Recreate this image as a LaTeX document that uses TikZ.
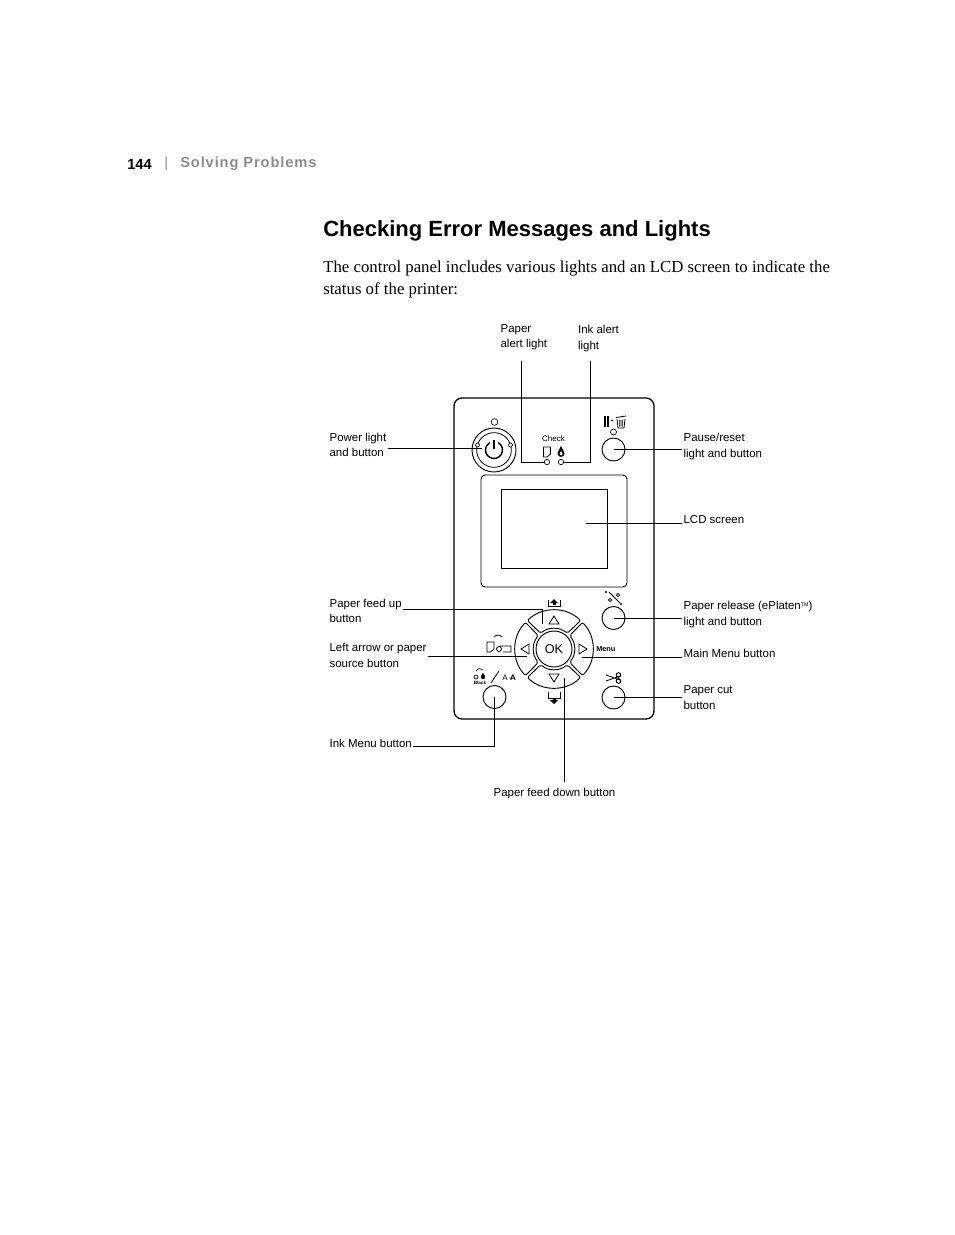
\documentclass[tikz,border=0pt]{standalone}
\usepackage{fontspec}
\setmainfont{Liberation Serif}
\setsansfont{Liberation Sans}
\newfontfamily\headfont[LetterSpace=6]{Liberation Sans}
\definecolor{headgray}{RGB}{140,140,140}
\usetikzlibrary{calc}

\begin{document}
\begin{tikzpicture}[x=0.75pt,y=-0.75pt,
  lbl/.style={font=\sffamily\fontsize{8.6}{11.5}\selectfont,align=left,anchor=west,inner xsep=1pt,inner ysep=0pt},
  bodytxt/.style={font=\fontsize{12.6}{16.5}\selectfont,align=left,anchor=west,inner sep=0pt},
  callout/.style={line width=0.6pt},
  panelline/.style={line width=0.7pt},
  btn/.style={circle,draw,line width=0.7pt,minimum size=17.25pt,inner sep=0pt},
  led/.style={circle,draw,line width=0.5pt,minimum size=4pt,inner sep=0pt},
  tinytxt/.style={font=\sffamily\fontsize{5}{6}\selectfont,inner sep=0pt}
]
  \useasboundingbox (0,0) rectangle (954,1235);

  % Header
  \node[anchor=west,inner sep=0pt,font=\sffamily\bfseries\fontsize{11}{13}\selectfont] (pagenum) at (127,164) {144};
  \node[anchor=west,inner sep=0pt,font=\sffamily\fontsize{11}{13}\selectfont,headgray] (pagebar) at (164,164) {|};
  \node[anchor=west,inner sep=0pt,font=\headfont\bfseries\fontsize{11}{13}\selectfont,headgray] (chapter) at (180,164) {Solving Problems};
  \node[anchor=west,inner sep=0pt,font=\sffamily\bfseries\fontsize{16.5}{20}\selectfont] (title) at (323,231) {Checking Error Messages and Lights};
  \node[bodytxt] (intro) at (323,279) {The control panel includes various lights and an LCD screen to indicate the\\status of the printer:};

  % Panel
  \draw[line width=1pt,rounded corners=6pt] (454,398) rectangle (654,719);
  \draw[panelline,rounded corners=3pt] (481,475) rectangle (627,587);
  \draw[panelline] (501.5,489) rectangle (607,568);

  % Power
  \node[led,minimum size=5pt] (powerled) at (494.5,422) {};
  \node[btn,minimum size=33pt] (powerbtn) at (494,450) {};
  \node[circle,draw,line width=0.6pt,minimum size=26pt,inner sep=0pt] (powerin) at (494,450) {};
  \draw[line width=0.5pt,fill=white] (477.5,445) circle (2);
  \draw[line width=0.5pt,fill=white] (510.5,445) circle (2);
  \begin{scope}[shift={(494,450)},y=0.75pt]
    \draw[line width=1.1pt] (60:8.5) arc (60:-240:8.5);
    \draw[line width=1.1pt] (0,10) -- (0,1);
  \end{scope}

  % Check lights
  \node[tinytxt,font=\sffamily\fontsize{6}{7}\selectfont] (checktxt) at (553.5,439) {Check};
  \draw[line width=0.6pt] (543.5,447) -- (550.5,447) -- (550.5,454) -- (547,457) -- (543.5,457) -- cycle;
  \fill (561,446) .. controls (562,449) and (564.5,451) .. (564.5,453.5) .. controls (564.5,458) and (557.5,458) .. (557.5,453.5) .. controls (557.5,451) and (560,449) .. (561,446);
  \fill[white] (561,451) .. controls (562,452.5) and (562.5,453) .. (562.5,454) .. controls (562.5,456) and (559.5,456) .. (559.5,454) .. controls (559.5,453) and (560,452.5) .. (561,451);
  \node[led] (paperled) at (547,462) {};
  \node[led] (inkled) at (561,462) {};

  % Pause
  \fill (603.5,416) rectangle (605.5,427);
  \fill (607,416) rectangle (609,427);
  \fill (612,420.5) circle (1);
  \draw[line width=0.6pt] (617,419) -- (618,428) -- (624,428) -- (625,419) (616,417.5) -- (626,416);
  \draw[line width=0.4pt] (619.5,420) -- (619.7,426.5) (621,420) -- (621,426.5) (622.5,420) -- (622.3,426.5);
  \node[led,minimum size=4.5pt] (pauseled) at (613.5,432) {};
  \node[btn] (pausebtn) at (613.5,449.5) {};

  % Keypad
  \begin{scope}[shift={(554,649)},y=0.75pt]
    \foreach \a in {0,90,180,270}{
      \draw[panelline,rounded corners=1.5pt,rotate=\a] (47:39) arc (47:133:39) -- (130.5:20.5) arc (130.5:49.5:20.5) -- cycle;
      \draw[line width=0.6pt,rotate=\a] (-5,25) -- (5,25) -- (0,33) -- cycle;
    }
  \end{scope}
  \node[circle,draw,line width=0.7pt,minimum size=27pt,inner sep=0pt,font=\sffamily\fontsize{9.5}{11}\selectfont] (okbtn) at (554,649) {OK};
  \node[tinytxt,font=\sffamily\bfseries\fontsize{5.5}{7}\selectfont,anchor=west] (menutxt) at (596,649) {Menu};
  \coordinate (upkey) at (542.5,624);
  \coordinate (leftkey) at (527,656);
  \coordinate (rightkey) at (582,657);
  \coordinate (downkey) at (564,678);

  % Feed icons
  \draw[line width=0.6pt] (548,600) -- (548,606) -- (560,606) -- (560,600);
  \fill (554,599) -- (558,603) -- (550,603) -- cycle;
  \fill (552.5,603) rectangle (555.5,605);
  \draw[line width=0.6pt] (548,692) -- (548,698) -- (560,698) -- (560,692);
  \fill (554,704) -- (558,700) -- (550,700) -- cycle;
  \fill (552.5,698) rectangle (555.5,700);

  % Paper source icon
  \draw[line width=0.6pt] (487,642) -- (494,642) -- (494,649) -- (490.5,652) -- (487,652) -- cycle;
  \draw[line width=0.6pt] (500,646) -- (511,646) -- (511,652) -- (503,652) (499,649) circle (2.5);
  \draw[line width=0.6pt] (494,637) .. controls (496,634.5) and (500,634.5) .. (502,637);

  % Ink icon
  \draw[line width=0.5pt] (476,677) circle (2);
  \fill (483,677) circle (2.2);
  \fill (483,672.5) -- (484.7,676) -- (481.3,676) -- cycle;
  \draw[line width=0.5pt] (476,671) .. controls (478,668) and (481,668) .. (483,670);
  \node[tinytxt,font=\sffamily\bfseries\fontsize{3.5}{4}\selectfont] (blacktxt) at (480,682.5) {Black};
  \draw[line width=0.6pt] (491,683) -- (499,671);
  \node[tinytxt,font=\sffamily\fontsize{6}{7}\selectfont] (smalla) at (505,678) {A};
  \fill (510,678) circle (0.7);
  \node[tinytxt,font=\sffamily\bfseries\fontsize{6}{7}\selectfont] (biga) at (513,678) {A};
  \node[btn] (inkbtn) at (494.5,697) {};

  % Release and cut
  \draw[line width=0.7pt] (609,592) -- (620,603);
  \fill (606,592) circle (1.2);
  \fill (621,604) circle (1.2);
  \draw[line width=0.5pt] (618,595) circle (1.7) (610,600) circle (1.7);
  \node[btn] (releasebtn) at (613.5,618) {};
  \draw[line width=0.6pt] (606,675) -- (620,680) (606,681) -- (620,676);
  \draw[line width=0.7pt] (618.5,675) circle (2.3) (618.5,681) circle (2.3);
  \node[btn] (cutbtn) at (613.5,697.5) {};

  % Labels
  \node[lbl] (powerlbl) at (328,445) {Power light\\and button};
  \node[lbl] (feeduplbl) at (328,611) {Paper feed up\\button};
  \node[lbl] (leftlbl) at (328,655.5) {Left arrow or paper\\source button};
  \node[lbl] (inklbl) at (328,743) {Ink Menu button};
  \node[lbl] (pauselbl) at (682,446.5) {Pause/reset\\light and button};
  \node[lbl] (lcdlbl) at (682,520) {LCD screen};
  \node[lbl] (releaselbl) at (682,614.5) {Paper release (ePlaten\raisebox{0.5ex}{\fontsize{4}{4}\selectfont TM})\\light and button};
  \node[lbl] (menulbl) at (682,653) {Main Menu button};
  \node[lbl] (cutlbl) at (682,697.5) {Paper cut\\button};
  \node[lbl] (paperlbl) at (499,337.5) {Paper\\alert light};
  \node[lbl] (inkalertlbl) at (576.5,338.5) {Ink alert\\light};
  \node[lbl] (feeddownlbl) at (492,794) {Paper feed down button};

  % Connectors
  \coordinate (paperend) at (521,361);
  \coordinate (inkend) at (590,361);
  \coordinate (lcdpt) at (586,523);
  \coordinate (feeddownend) at (564,782);
  \draw[callout] (paperled.west) -| (paperend);
  \draw[callout] (inkled.east) -| (inkend);
  \draw[callout] (powerlbl.east |- 0,448) -- (482,448);
  \draw[callout] (pausebtn.center) -- (pauselbl.west |- pausebtn.center);
  \draw[callout] (lcdpt) -- (lcdlbl.west |- lcdpt);
  \draw[callout] (feeduplbl.east |- 0,609) -| (upkey);
  \draw[callout] (leftlbl.east |- leftkey) -- (leftkey);
  \draw[callout] (inklbl.east |- 0,746) -| (inkbtn.center);
  \draw[callout] (releasebtn.center) -- (releaselbl.west |- releasebtn.center);
  \draw[callout] (rightkey) -- (menulbl.west |- rightkey);
  \draw[callout] (cutbtn.center) -- (cutlbl.west |- cutbtn.center);
  \draw[callout] (downkey) -- (feeddownend);
\end{tikzpicture}
\end{document}
